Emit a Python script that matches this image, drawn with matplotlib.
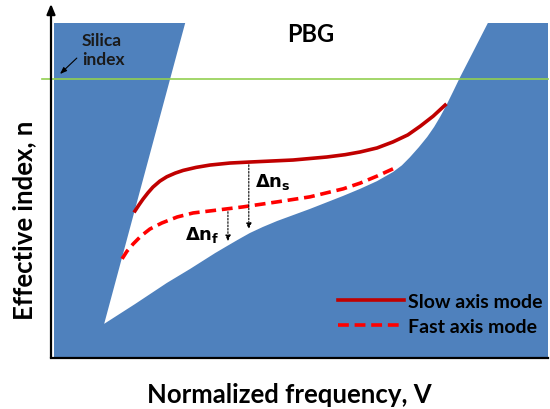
import matplotlib
matplotlib.use("Agg")
import matplotlib.pyplot as plt
from matplotlib.lines import Line2D

plt.rcParams["font.family"] = ["Lato", "DejaVu Sans"]
plt.rcParams["font.weight"] = "bold"

# schematic values, V and n in arbitrary units (0..10)
# left edge of the band gap (cladding light line)
gap_left_v = [2.70, 1.07]
gap_left_n = [10.0, 1.02]
# lower/right edge of the band gap
gap_edge_v = [1.07, 1.69, 2.33, 2.80, 3.30, 3.54, 3.76, 4.00, 4.26, 4.55, 5.21, 5.88,
              6.22, 6.56, 6.88, 7.06, 7.22, 7.40, 7.57, 7.71, 7.83, 7.95, 8.09, 8.23,
              8.49, 8.79]
gap_edge_n = [1.02, 1.61, 2.24, 2.66, 3.13, 3.34, 3.53, 3.73, 3.91, 4.09, 4.45, 4.84,
              5.05, 5.28, 5.55, 5.75, 5.99, 6.29, 6.60, 6.90, 7.20, 7.53, 7.95, 8.38,
              9.13, 10.0]

slow_v = [1.69, 1.77, 1.85, 1.95, 2.05, 2.19, 2.33, 2.50, 2.66, 2.92, 3.20, 3.60,
          4.00, 4.87, 5.55, 5.92, 6.22, 6.56, 6.88, 7.18, 7.43, 7.69, 7.93]
slow_n = [4.39, 4.57, 4.74, 4.93, 5.10, 5.28, 5.41, 5.52, 5.60, 5.69, 5.76, 5.82,
          5.85, 5.91, 6.00, 6.07, 6.15, 6.27, 6.45, 6.66, 6.92, 7.22, 7.55]

fast_v = [1.43, 1.53, 1.65, 1.81, 1.99, 2.23, 2.54, 2.86, 3.20, 3.86, 4.55, 5.21,
          5.88, 6.22, 6.56, 6.96]
fast_n = [2.96, 3.19, 3.40, 3.64, 3.85, 4.03, 4.21, 4.33, 4.39, 4.51, 4.66, 4.81,
          5.05, 5.22, 5.43, 5.70]

silica_n = 8.33

# index contrast markers
dnf_v, dnf_top, dnf_bot = 3.56, 4.45, 3.40
dns_v, dns_top, dns_bot = 3.98, 5.85, 3.76

blue = "#4F81BD"
slow_c = "#C00000"
fast_c = "#FF0000"
dash = (0, (3, 1.6))

fig = plt.figure(figsize=(5.5, 4.1), dpi=100)
ax = fig.add_axes([51 / 550, 51 / 410, 497 / 550, 335 / 410])
ax.set_xlim(0, 10)
ax.set_ylim(0, 10)

# cladding modes (blue) with the white band gap cut out
ax.fill([0.06, 10, 10, 0.06], [0, 0, 10, 10], color=blue, lw=0, zorder=1)
ax.fill(gap_left_v + gap_edge_v[1:], gap_left_n + gap_edge_n[1:],
        color="white", lw=0, zorder=2)

ax.plot([-0.18, 10], [silica_n, silica_n], color="#92D050", lw=1.2, zorder=3, clip_on=False)

ax.plot(slow_v, slow_n, color=slow_c, lw=2.6, zorder=5, solid_joinstyle="round")
ax.plot(fast_v, fast_n, color=fast_c, lw=2.6, ls=dash, zorder=5)

for v, top, bot in [(dnf_v, dnf_top, dnf_bot), (dns_v, dns_top, dns_bot)]:
    ax.annotate("", xy=(v, bot), xytext=(v, top),
                arrowprops=dict(arrowstyle="-|>,head_length=0.35,head_width=0.15",
                                color="black", lw=0.8, ls=(0, (1.5, 1.5))),
                zorder=6)

ax.text(4.10, 5.28, r"$\mathbf{\Delta n_s}$", fontsize=13, ha="left", va="center", zorder=6)
ax.text(3.40, 3.70, r"$\mathbf{\Delta n_f}$", fontsize=13, ha="right", va="center", zorder=6)

ax.text(5.23, 9.70, "PBG", fontsize=17, ha="center", va="center", zorder=6)
ax.text(0.62, 9.22, "Silica\nindex", fontsize=12.5, ha="left", va="center",
        color="#1a1a1a", linespacing=1.25, zorder=6)
ax.annotate("", xy=(0.14, 8.42), xytext=(0.56, 9.01),
            arrowprops=dict(arrowstyle="-|>,head_length=0.4,head_width=0.15",
                            color="black", lw=0.8), zorder=6)

handles = [Line2D([], [], color=slow_c, lw=2.6),
           Line2D([], [], color=fast_c, lw=2.6, ls=dash)]
ax.legend(handles, ["Slow axis mode", "Fast axis mode"], loc="lower right",
          bbox_to_anchor=(1.008, 0.04), frameon=False, fontsize=14,
          handlelength=3.4, handletextpad=0.2, labelspacing=0.42, borderpad=0)

# axes: only left/bottom, with arrow on the index axis
for s in ["top", "right", "left"]:
    ax.spines[s].set_visible(False)
ax.spines["bottom"].set_linewidth(1.6)
ax.set_xticks([])
ax.set_yticks([])
ax.annotate("", xy=(0, 1.057), xytext=(0, 0), xycoords="axes fraction",
            arrowprops=dict(arrowstyle="-|>,head_length=0.6,head_width=0.25",
                            color="black", lw=1.6, shrinkA=0, shrinkB=0))

fig.text(289 / 550, 1 - 395 / 410, "Normalized frequency, V", fontsize=18.5,
         ha="center", va="center")
fig.text(24 / 550, 1 - 220 / 410, "Effective index, n", fontsize=18.5,
         ha="center", va="center", rotation=90)

fig.savefig("out.png", dpi=100)
